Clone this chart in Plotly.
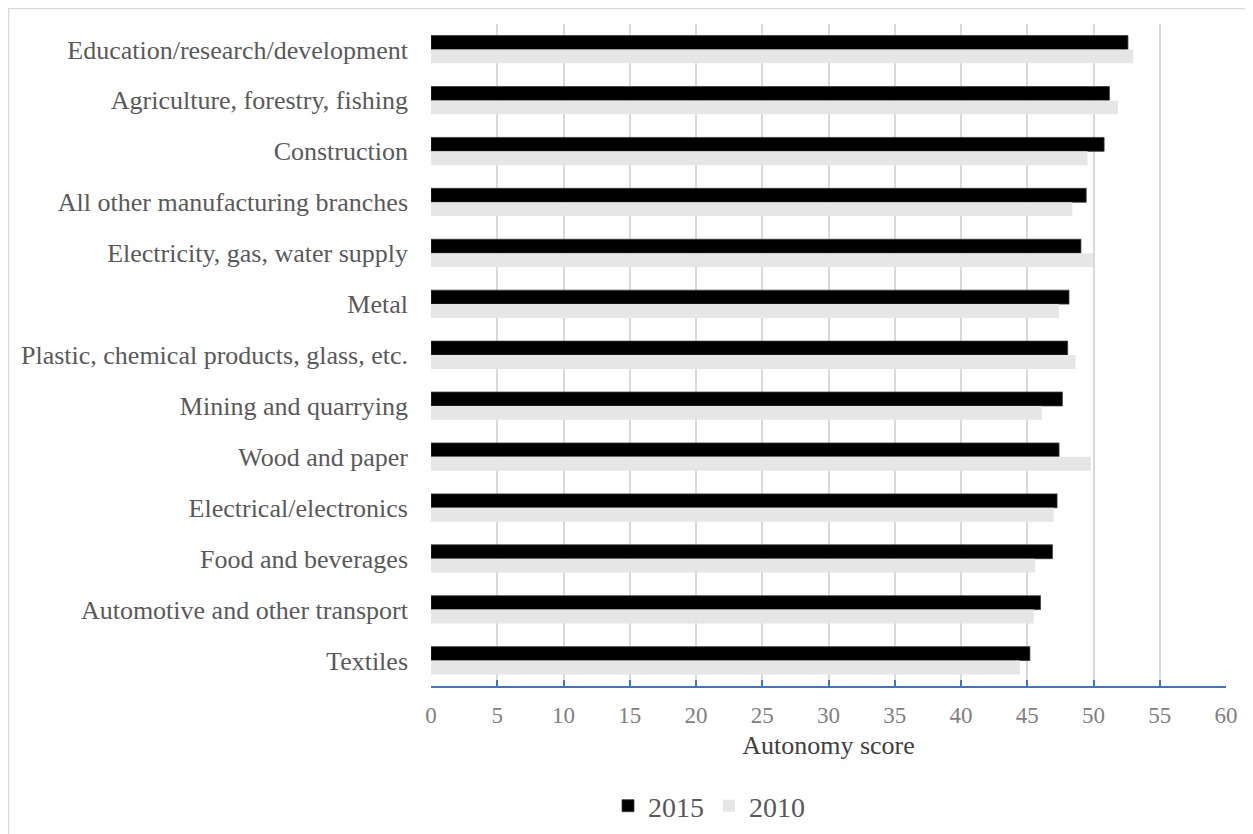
import plotly.graph_objects as go

categories = [
    "Education/research/development",
    "Agriculture, forestry, fishing",
    "Construction",
    "All other manufacturing branches",
    "Electricity, gas, water supply",
    "Metal",
    "Plastic, chemical products, glass, etc.",
    "Mining and quarrying",
    "Wood and paper",
    "Electrical/electronics",
    "Food and beverages",
    "Automotive and other transport",
    "Textiles",
]
values_2015 = [52.6, 51.2, 50.8, 49.45, 49.05, 48.15, 48.05, 47.65, 47.4, 47.25, 46.9, 46.0, 45.2]
values_2010 = [53.0, 51.85, 49.55, 48.4, 49.95, 47.4, 48.65, 46.1, 49.8, 47.0, 45.6, 45.5, 44.45]
x_ticks = list(range(0, 61, 5))

FONT = "Liberation Serif"
W, H = 1245, 826          # page has an 8px body margin
L, R, T, B = 423, 27, 16, 148
pw, ph = W - L - R, H - T - B

fig = go.Figure()
fig.add_trace(go.Bar(y=categories, x=values_2015, name="2015", orientation="h",
                     marker=dict(color="#000000", line=dict(color="#3a3a3a", width=0.8))))
fig.add_trace(go.Bar(y=categories, x=values_2010, name="2010", orientation="h",
                     marker=dict(color="#e6e6e6", line=dict(width=0))))

fig.update_layout(
    width=W, height=H,
    margin=dict(l=L, r=R, t=T, b=B, pad=0, autoexpand=False),
    paper_bgcolor="white", plot_bgcolor="white",
    barmode="group", bargap=0.455, bargroupgap=0,
    font=dict(family=FONT, color="#595959", size=26),
    showlegend=True,
    legend=dict(orientation="h", x=(600 - L) / pw, xanchor="left",
                y=(T + ph - 798) / ph, yanchor="middle",
                font=dict(size=28, color="#595959", family=FONT),
                itemwidth=30, traceorder="normal"),
    shapes=[dict(type="rect", xref="paper", yref="paper",
                 x0=(0.5 - L) / pw, x1=(1400 - L) / pw,
                 y0=(T + ph - 1000) / ph, y1=(T + ph - 0.5) / ph,
                 line=dict(color="#d9d9d9", width=1.5), fillcolor="rgba(0,0,0,0)", layer="below")],
)
fig.update_xaxes(
    range=[0, 60], tickvals=x_ticks, ticktext=[str(v) for v in x_ticks],
    showgrid=True, gridcolor="#d9d9d9", gridwidth=1.5,
    showline=True, linecolor="#4472c4", linewidth=1.5,
    ticks="inside", ticklen=6, tickcolor="#4472c4", tickwidth=1.5,
    tickfont=dict(size=23, color="#7f7f7f", family=FONT), ticklabelstandoff=8,
    zeroline=False, automargin=False,
    title=dict(text="Autonomy score", font=dict(size=26, color="#404040", family=FONT), standoff=8),
)
fig.update_yaxes(
    categoryorder="array", categoryarray=categories, autorange="reversed",
    showgrid=False, showline=False, ticks="", ticklabelstandoff=22, automargin=False,
    tickfont=dict(size=26, color="#595959", family=FONT),
)

fig.write_html("out.html")
